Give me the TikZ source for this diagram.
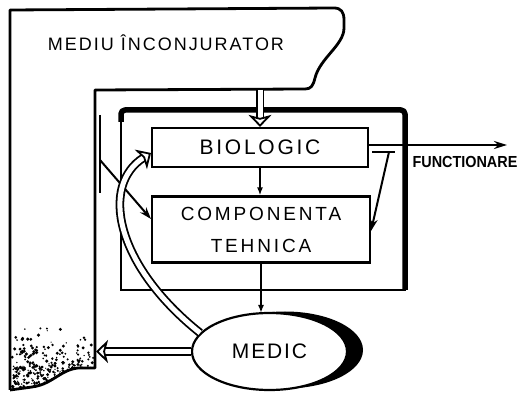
\documentclass[tikz,border=0pt]{standalone}
\usepackage{fontspec}
\setmainfont{Liberation Sans}
\usetikzlibrary{arrows.meta,shapes.geometric}
\begin{document}
\begin{tikzpicture}[x=1pt,y=-1pt,
  box/.style={draw, line width=2.2pt, inner sep=0pt, align=center, fill=white},
  thinarr/.style={line width=1.7pt, -{Latex[length=8pt,width=6pt]}},
  fb/.style={line width=2pt},
  fbarr/.style={line width=2pt, -{Stealth[length=12pt,width=8pt]}},
  hollow/.style={double=white, double distance=5pt, line width=1.8pt,
     -{Stealth[fill=white,length=12pt,width=23pt,inset=3pt]}},
  envline/.style={line width=2.8pt, line join=round}]
\useasboundingbox (0,0) rectangle (520,395);

% outer environment
\draw[envline] (10,390) -- (10,10) -- (334,8) .. controls (341,8) and (344,12) .. (344,20)
  -- (344,28) .. controls (344,45) and (320,58) .. (315,78)
  .. controls (313,86) and (311,89) .. (305,89) -- (95,90) -- (95,368) -- (85,368)
  .. controls (62,366) and (55,384) .. (32,387) -- (10,390);
\node[font=\fontsize{18}{22}\selectfont\addfontfeatures{LetterSpace=11}] (envlbl) at (166,43) {MEDIU ÎNCONJURATOR};

% stipple
\begin{scope}
\clip (11,300) -- (94,300) -- (94,368) -- (85,368) .. controls (62,366) and (55,384) .. (32,387) -- (11,389) -- cycle;
\pgfmathsetseed{7}
\foreach \i in {1,...,450}{
  \pgfmathsetmacro\xx{12+82*rnd}
  \pgfmathsetmacro\yy{391-70*rnd*rnd}
  \pgfmathsetmacro\rr{0.6+1.2*rnd}
  \fill (\xx,\yy) circle[radius=\rr];
}
\end{scope}

% inner system frame
\draw[line width=2.2pt] (121,116) -- (121,290) -- (406,290);
\draw[line width=5.5pt, line join=round, rounded corners=4pt] (121,122) |- (405,110) -- (405,290);

% boxes
\node[box, minimum width=216pt, minimum height=39pt,
      font=\fontsize{21}{24}\selectfont\addfontfeatures{LetterSpace=13}] (bio) at (260,147.5) {BIOLOGIC};
\node[box, minimum width=218pt, minimum height=66pt,
      font=\fontsize{19}{32}\selectfont\addfontfeatures{LetterSpace=15}] (comp) at (261,229.5) {COMPONENTA\\TEHNICA};

% left feedback line
\coordinate (l1) at (100,115);
\coordinate (l2) at (100,193);
\coordinate (l3) at (100,160);
\coordinate (l4) at (151,219);
\draw[fb] (l1) -- (l2);
\draw[fbarr] (l3) -- (l4);

% medic with shadow
\fill (285,350) ellipse [x radius=78, y radius=38.5];
\node[ellipse, draw, fill=white, line width=2.2pt, minimum width=155pt, minimum height=77pt, inner sep=0pt,
      font=\fontsize{21}{24}\selectfont\addfontfeatures{LetterSpace=9}] (medic) at (269.5,351.5) {MEDIC};

% connectors
\coordinate (envb) at (260,90);
\draw[hollow] (envb) -- (bio.north);
\draw[thinarr] (bio.south) -- (bio.south |- comp.north);
\coordinate (mtop) at (261,313);
\draw[thinarr] (comp.south) -- (mtop);

\coordinate (fout) at (507,145);
\draw[line width=2.2pt, -{Stealth[length=13pt,width=8pt]}] (bio.east |- fout) -- (fout);
\node[font=\fontsize{16}{18}\selectfont\bfseries] (func) at (465,162) {\scalebox{0.9}[1]{FUNCTIONARE}};

\coordinate (r1) at (372,152);
\coordinate (r2) at (395,152);
\coordinate (r3) at (389,152);
\coordinate (r4) at (371,231);
\draw[fb] (r1) -- (r2);
\draw[fbarr] (r3) -- (r4);

\coordinate (bin) at (151,153);
\draw[hollow] (medic.165) .. controls (115,265) and (100,185) .. (bin);
\coordinate (envl) at (96,351.5);
\draw[hollow] (medic.west) -- (envl);
\end{tikzpicture}
\end{document}
